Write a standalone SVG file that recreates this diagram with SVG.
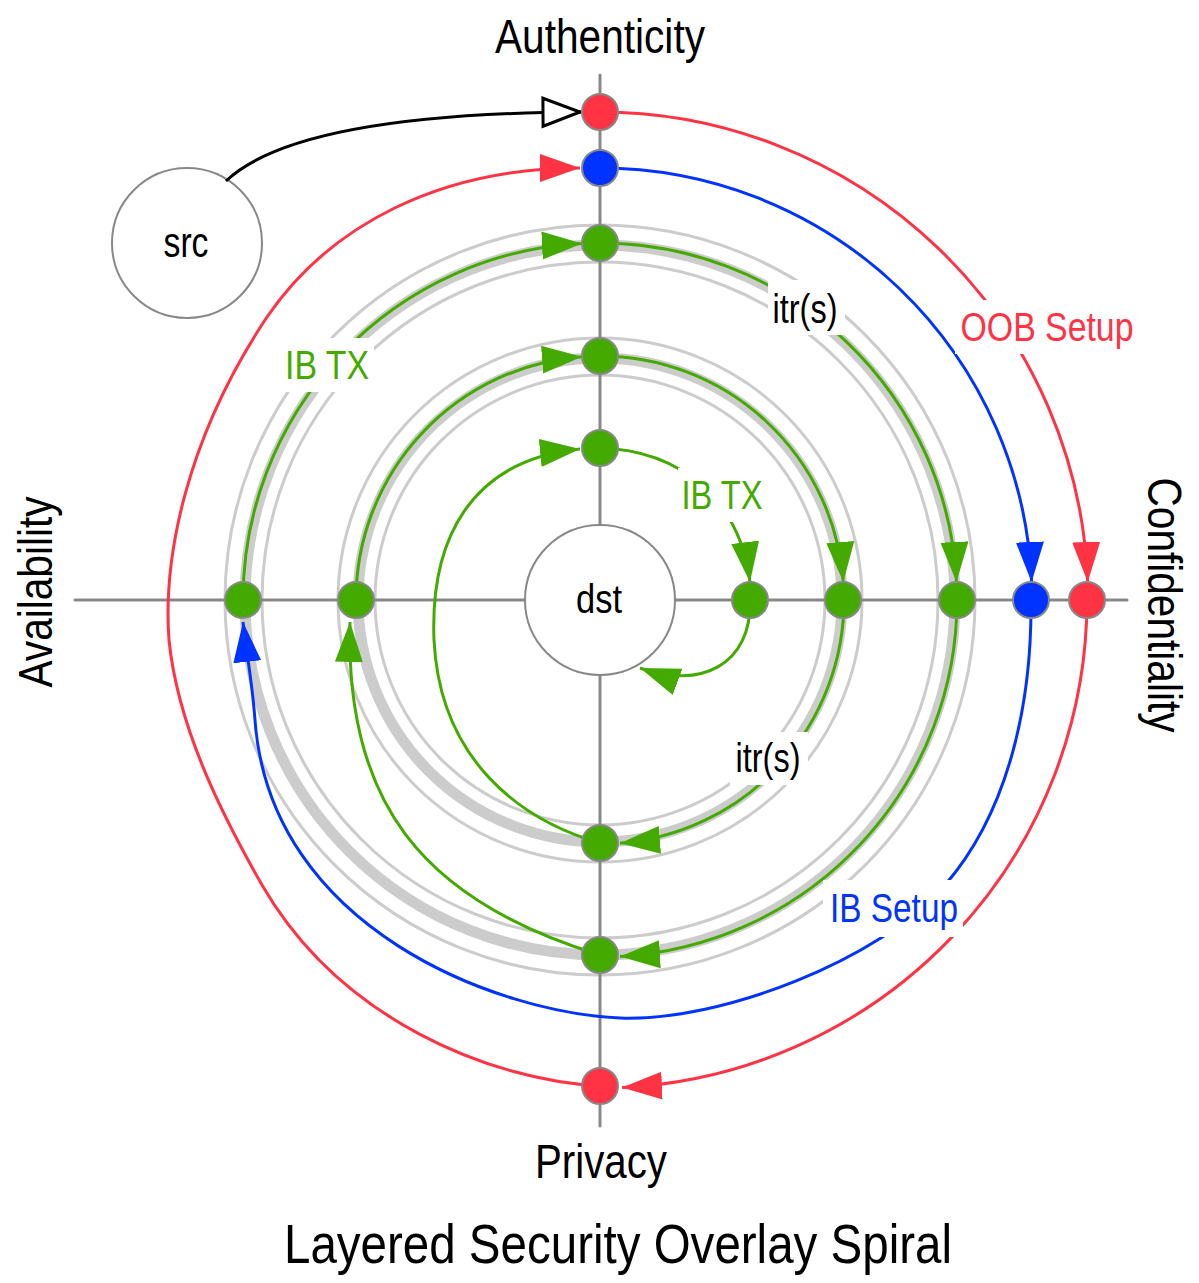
<svg xmlns="http://www.w3.org/2000/svg" width="1199" height="1283" viewBox="0 0 1199 1283">
<style>
text{font-family:"Liberation Sans",Arial,sans-serif;text-anchor:middle}
.ax{font-size:48px;fill:#000}
.lbl{font-size:41px}
.ring{fill:none;stroke:#cccccc;stroke-width:3}
.band{fill:none;stroke:#cccccc;stroke-width:11}
.axis{stroke:#888888;stroke-width:3;stroke-linecap:round}
.big{fill:#ffffff;stroke:#888888;stroke-width:2}
.c{fill:none;stroke-width:3}
.r{stroke:#ff3344}.b{stroke:#0033ff}.g{stroke:#44aa00}.k{stroke:#000000}
.nr{fill:#ff3344;stroke:#888888;stroke-width:2}
.nb{fill:#0033ff;stroke:#888888;stroke-width:2}
.ng{fill:#44aa00;stroke:#888888;stroke-width:2}
.bg{fill:#ffffff}
</style>
<defs>
<marker id="mg" markerUnits="userSpaceOnUse" markerWidth="42" markerHeight="30" refX="40" refY="14" orient="auto"><path d="M0,0 L40,14 L0,28 z" fill="#44aa00"/></marker>
<marker id="mr" markerUnits="userSpaceOnUse" markerWidth="42" markerHeight="30" refX="40" refY="14" orient="auto"><path d="M0,0 L40,14 L0,28 z" fill="#ff3344"/></marker>
<marker id="mb" markerUnits="userSpaceOnUse" markerWidth="42" markerHeight="30" refX="40" refY="14" orient="auto"><path d="M0,0 L40,14 L0,28 z" fill="#0033ff"/></marker>
<marker id="mk" markerUnits="userSpaceOnUse" markerWidth="44" markerHeight="34" refX="40" refY="16" orient="auto"><path d="M2,2 L39,16 L2,30 z" fill="#ffffff" stroke="#000000" stroke-width="3"/></marker>
</defs>
<rect width="1199" height="1283" fill="#ffffff"/>
<g id="rings">
<circle class="ring" cx="600" cy="600" r="375"/>
<circle class="ring" cx="600" cy="600" r="338"/>
<circle class="band" cx="600" cy="600" r="355"/>
<circle class="ring" cx="600" cy="600" r="262"/>
<circle class="ring" cx="600" cy="600" r="225"/>
<circle class="band" cx="600" cy="600" r="242"/>
</g>
<g id="axes">
<line class="axis" x1="600" y1="75" x2="600" y2="1126"/>
<line class="axis" x1="75" y1="600" x2="1127" y2="600"/>
</g>
<g id="src"><circle class="big" cx="187" cy="243" r="75"/><text x="186" y="257" font-size="42" textLength="45" lengthAdjust="spacingAndGlyphs">src</text></g>
<g id="dst"><circle class="big" cx="600" cy="600" r="75"/><text x="599" y="613" font-size="40" textLength="46" lengthAdjust="spacingAndGlyphs">dst</text></g>
<g id="connectors">
<path class="c k" d="M226,181 C280,130 420,113 581,112" marker-end="url(#mk)"/>
<path class="c r" d="M600,112 A488,488 0 0 1 1087.7,582" marker-end="url(#mr)"/>
<path class="c r" d="M1087,600 A488,488 0 0 1 622,1087.5" marker-end="url(#mr)"/>
<path class="c r" d="M600,1086 C490,1080 340,1020 262,885 C225,820 178,730 169,640 C163,560 185,440 267,317 C330,225 440,168 580,168" marker-end="url(#mr)"/>
<path class="c b" d="M600,168 A432,432 0 0 1 1031.6,582" marker-end="url(#mb)"/>
<path class="c b" d="M1031,600 C1032,700 1010,810 945,885 C880,960 720,1022 620,1018 C500,1013 270,930 255,720 C252,680 246,650 243,622" marker-end="url(#mb)"/>
<path class="c g" d="M243,600 A357,357 0 0 1 582,243.5" marker-end="url(#mg)"/>
<path class="c g" d="M600,243 A357,357 0 0 1 956.5,582" marker-end="url(#mg)"/>
<path class="c g" d="M957,600 A357,357 0 0 1 620,956.4" marker-end="url(#mg)"/>
<path class="c g" d="M356,600 A244,244 0 0 1 582,356.7" marker-end="url(#mg)"/>
<path class="c g" d="M600,356 A244,244 0 0 1 843.3,582" marker-end="url(#mg)"/>
<path class="c g" d="M844,600 A244,244 0 0 1 620,843.2" marker-end="url(#mg)"/>
<path class="c g" d="M600,843 C520,820 440,760 434,640 C430,540 470,460 580,449" marker-end="url(#mg)"/>
<path class="c g" d="M600,955 C420,900 345,800 350,622" marker-end="url(#mg)"/>
<path class="c g" d="M600,448 C680,450 740,500 750,582" marker-end="url(#mg)"/>
<path class="c g" d="M750,600 C752,665 700,690 640,668" marker-end="url(#mg)"/>
</g>
<g id="labels">
<rect class="bg" x="282" y="338" width="92" height="54"/>
<text class="lbl" x="327" y="379" fill="#44aa00" textLength="84" lengthAdjust="spacingAndGlyphs">IB TX</text>
<rect class="bg" x="768" y="280" width="77" height="55"/>
<text class="lbl" x="805" y="323" fill="#000000" textLength="65" lengthAdjust="spacingAndGlyphs">itr(s)</text>
<rect class="bg" x="955" y="300" width="182" height="54"/>
<text class="lbl" x="1047" y="341" fill="#ff3344" textLength="173" lengthAdjust="spacingAndGlyphs">OOB Setup</text>
<rect class="bg" x="678" y="468" width="90" height="54"/>
<text class="lbl" x="722" y="509" fill="#44aa00" textLength="81" lengthAdjust="spacingAndGlyphs">IB TX</text>
<rect class="bg" x="730" y="732" width="78" height="53"/>
<text class="lbl" x="768" y="772" fill="#000000" textLength="65" lengthAdjust="spacingAndGlyphs">itr(s)</text>
<rect class="bg" x="823" y="880" width="140" height="57"/>
<text class="lbl" x="894" y="922" fill="#0033ff" textLength="128" lengthAdjust="spacingAndGlyphs">IB Setup</text>
</g>
<g id="nodes">
<circle id="a_red" class="nr" cx="600" cy="112" r="18"/>
<circle id="a_blue" class="nb" cx="600" cy="168" r="18"/>
<circle id="a_g1" class="ng" cx="600" cy="243" r="18"/>
<circle id="a_g2" class="ng" cx="600" cy="356" r="18"/>
<circle id="a_g3" class="ng" cx="600" cy="448" r="18"/>
<circle id="c_g3" class="ng" cx="750" cy="600" r="18"/>
<circle id="c_g2" class="ng" cx="843" cy="600" r="18"/>
<circle id="c_g1" class="ng" cx="957" cy="600" r="18"/>
<circle id="c_blue" class="nb" cx="1031" cy="600" r="18"/>
<circle id="c_red" class="nr" cx="1087" cy="600" r="18"/>
<circle id="v_g1" class="ng" cx="243" cy="600" r="18"/>
<circle id="v_g2" class="ng" cx="356" cy="600" r="18"/>
<circle id="p_g2" class="ng" cx="600" cy="843" r="18"/>
<circle id="p_g1" class="ng" cx="600" cy="955" r="18"/>
<circle id="p_red" class="nr" cx="600" cy="1086" r="18"/>
</g>
<g id="axis-labels">
<text class="ax" x="600" y="53" textLength="210" lengthAdjust="spacingAndGlyphs">Authenticity</text>
<text class="ax" x="601" y="1178" textLength="132" lengthAdjust="spacingAndGlyphs">Privacy</text>
<text class="ax" transform="translate(52,592) rotate(-90)" textLength="191" lengthAdjust="spacingAndGlyphs">Availability</text>
<text class="ax" transform="translate(1148,605) rotate(90)" textLength="255" lengthAdjust="spacingAndGlyphs">Confidentiality</text>
<text x="618" y="1263" font-size="56" fill="#000000" textLength="668" lengthAdjust="spacingAndGlyphs">Layered Security Overlay Spiral</text>
</g>
</svg>
